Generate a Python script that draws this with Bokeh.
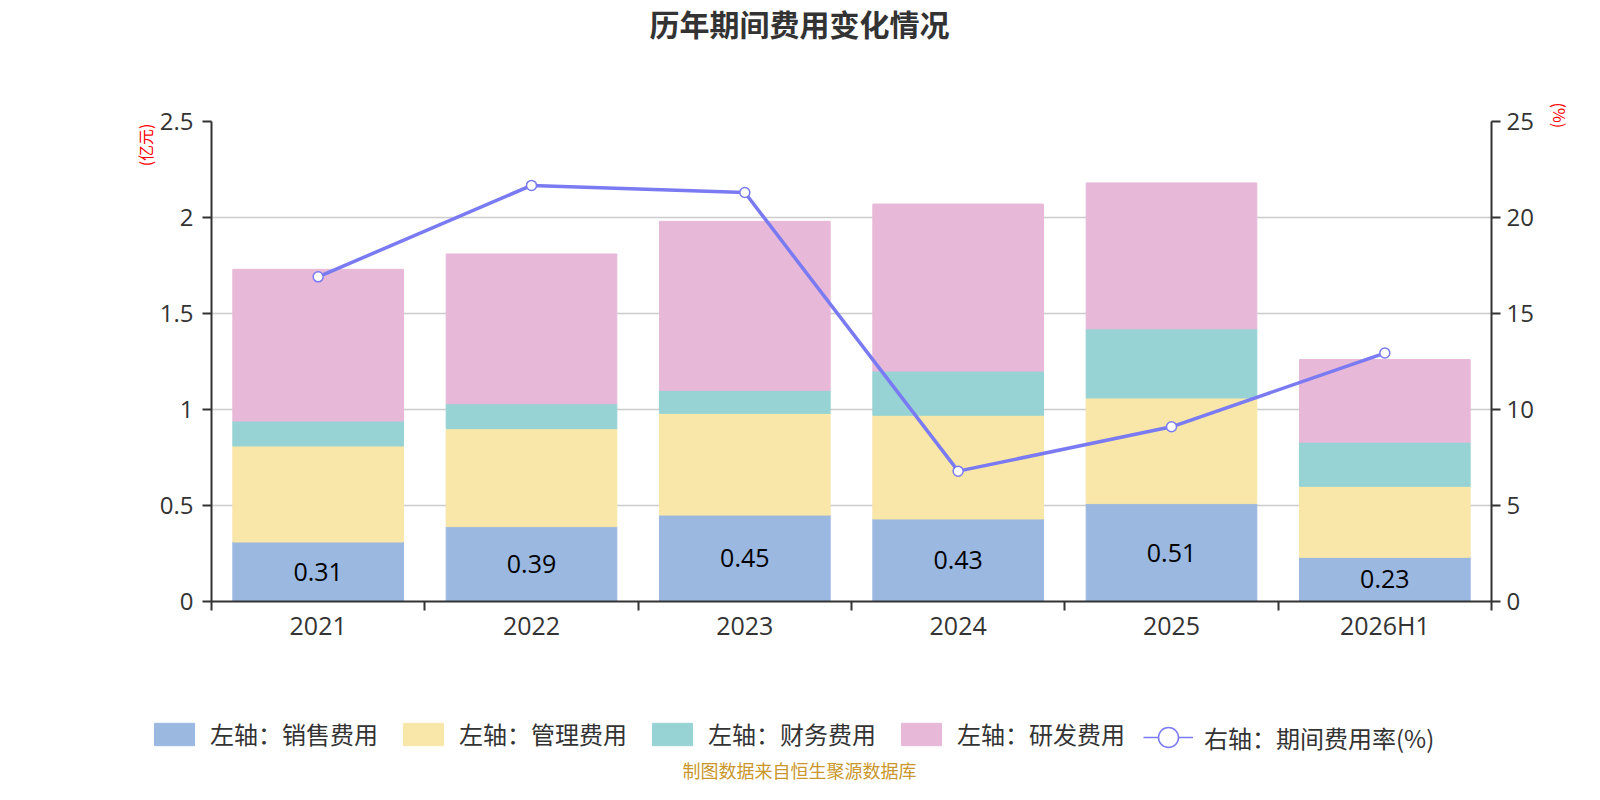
from bokeh.core.properties import value
from bokeh.embed import file_html
from bokeh.layouts import column
from bokeh.models import (ColumnDataSource, CustomJSTickFormatter, FixedTicker, Label,
                          Legend, LegendItem, LinearAxis, NumeralTickFormatter, Range1d,
                          SingleIntervalTicker, Title)
from bokeh.plotting import figure
from bokeh.resources import INLINE

categories = ["2021", "2022", "2023", "2024", "2025", "2026H1"]
sales = [0.31, 0.39, 0.45, 0.43, 0.51, 0.23]
admin = [0.50, 0.51, 0.53, 0.54, 0.55, 0.37]
finance = [0.13, 0.13, 0.12, 0.23, 0.36, 0.23]
rnd = [0.79, 0.78, 0.88, 0.87, 0.76, 0.43]
rate = [16.91, 21.67, 21.30, 6.79, 9.10, 12.94]

series_names = ["左轴：销售费用", "左轴：管理费用", "左轴：财务费用", "左轴：研发费用"]
line_name = "右轴：期间费用率(%)"
colors = ["#9bb8e1", "#f8e7a9", "#97d3d4", "#e7b8d8"]
line_color = "#7a7af2"

CJK = "Noto Sans CJK SC"
NUM = "Open Sans"
TXT = "#333333"

n = len(categories)
xs = [i + 0.5 for i in range(n)]

source = ColumnDataSource(dict(
    x=xs, sales=sales, admin=admin, finance=finance, rnd=rnd, rate=rate,
    sales_mid=[v / 2 for v in sales],
    sales_txt=["%.2f" % v for v in sales],
))

W = 1584
H0, H1, H2 = 60, 596, 128


def strip(h):
    s = figure(width=W, height=h, x_range=Range1d(0, W), y_range=Range1d(0, h),
               x_axis_type=None, y_axis_type=None, output_backend="svg",
               toolbar_location=None, min_border=0, frame_align=False)
    s.outline_line_color = None
    return s


# ---- title strip ----
p0 = strip(H0)
p0.add_layout(Label(x=799, y=H0 - 22, text="历年期间费用变化情况", text_align="center",
                    text_baseline="middle", text_font=CJK, text_font_size="30px",
                    text_font_style="bold", text_color=TXT))

# ---- main chart ----
p = figure(width=W, height=H1, x_range=Range1d(0, n), y_range=Range1d(0, 2.5),
           output_backend="svg", toolbar_location=None,
           min_border_left=211, min_border_right=91, min_border_top=61, min_border_bottom=55)
p.outline_line_color = None
p.extra_y_ranges = {"pct": Range1d(0, 25)}

# x axis: labels at centres, ticks at category boundaries
xa = p.xaxis[0]
xa.ticker = FixedTicker(ticks=xs, minor_ticks=list(range(n + 1)))
xa.formatter = CustomJSTickFormatter(args=dict(cats=categories),
                                     code="return cats[Math.floor(tick)] || ''")
xa.major_tick_in = 0
xa.major_tick_out = 0
xa.minor_tick_in = 0
xa.minor_tick_out = 9
xa.minor_tick_line_color = TXT
xa.minor_tick_line_width = 2
xa.axis_line_color = TXT
xa.axis_line_width = 2
xa.major_label_standoff = -3
xa.major_label_text_font = NUM
xa.major_label_text_font_size = "25px"
xa.major_label_text_color = TXT

ya = p.yaxis[0]
ya.ticker = SingleIntervalTicker(interval=0.5, num_minor_ticks=0)
ya.formatter = NumeralTickFormatter(format="0.[0]")

yr = LinearAxis(y_range_name="pct", ticker=SingleIntervalTicker(interval=5, num_minor_ticks=0))
p.add_layout(yr, "right")

for ax, standoff in ((ya, 9), (yr, 6)):
    ax.major_tick_in = 0
    ax.major_tick_out = 9
    ax.minor_tick_out = 0
    ax.minor_tick_in = 0
    ax.major_tick_line_color = TXT
    ax.major_tick_line_width = 2
    ax.axis_line_color = TXT
    ax.axis_line_width = 2
    ax.major_label_standoff = standoff
    ax.major_label_text_font = NUM
    ax.major_label_text_font_size = "24px"
    ax.major_label_text_color = TXT

p.add_layout(Title(text="(亿元)", align="right", offset=2, standoff=0,
                   text_font=CJK, text_font_size="16px", text_font_style="normal",
                   text_color="red"), "left")
p.add_layout(Title(text="(%)", align="left", offset=-19, standoff=22, vertical_align="bottom",
                   text_font=CJK, text_font_size="16px", text_font_style="normal",
                   text_color="red"), "right")

p.xgrid.visible = False
p.ygrid.grid_line_color = "#cccccc"
p.ygrid.grid_line_width = 1.5

p.vbar_stack(["sales", "admin", "finance", "rnd"], x="x", width=0.8,
             source=source, color=colors)

p.line("x", "rate", source=source, y_range_name="pct",
       line_color=line_color, line_width=3.5)
p.scatter("x", "rate", source=source, y_range_name="pct", size=10,
          fill_color="white", line_color=line_color, line_width=1.5)

p.text("x", "sales_mid", text="sales_txt", source=source, text_align="center",
       text_baseline="middle", text_font=value(NUM), text_font_size="25px",
       text_color="black")

# ---- legend + source strip ----
p2 = strip(H2)

# legend keys only: one point each, parked far outside the visible range
far = [-5000]
swatches = [p2.vbar(x=far, bottom=[-5001], top=[-5000], width=1, color=c) for c in colors]
key_line = p2.line(x=[-5010, -4990], y=[-5000, -5000], line_color=line_color, line_width=1.5)
key_dot = p2.scatter(x=far, y=far, fill_color="white", line_color=line_color, line_width=1.5)

legend_style = dict(orientation="horizontal", glyph_width=50, label_standoff=11, spacing=20,
                    padding=0, margin=0, border_line_color=None, background_fill_alpha=0,
                    label_text_font=CJK, label_text_font_size="24px", label_text_color=TXT)

leg_bars = Legend(items=[LegendItem(label=nm, renderers=[r]) for nm, r in zip(series_names, swatches)],
                  location=(149, 33), glyph_height=28, label_height=28, **legend_style)
leg_rate = Legend(items=[LegendItem(label=line_name, renderers=[key_line, key_dot])],
                  location=(1143, 19), glyph_height=56, label_height=56, **legend_style)
p2.add_layout(leg_bars, "center")
p2.add_layout(leg_rate, "center")

p2.add_layout(Label(x=799, y=15, text="制图数据来自恒生聚源数据库", text_align="center",
                    text_baseline="middle", text_font=CJK, text_font_size="18px",
                    text_color="#c9972c"))

open("out.html", "w").write(file_html(column(p0, p, p2, spacing=0), INLINE))
